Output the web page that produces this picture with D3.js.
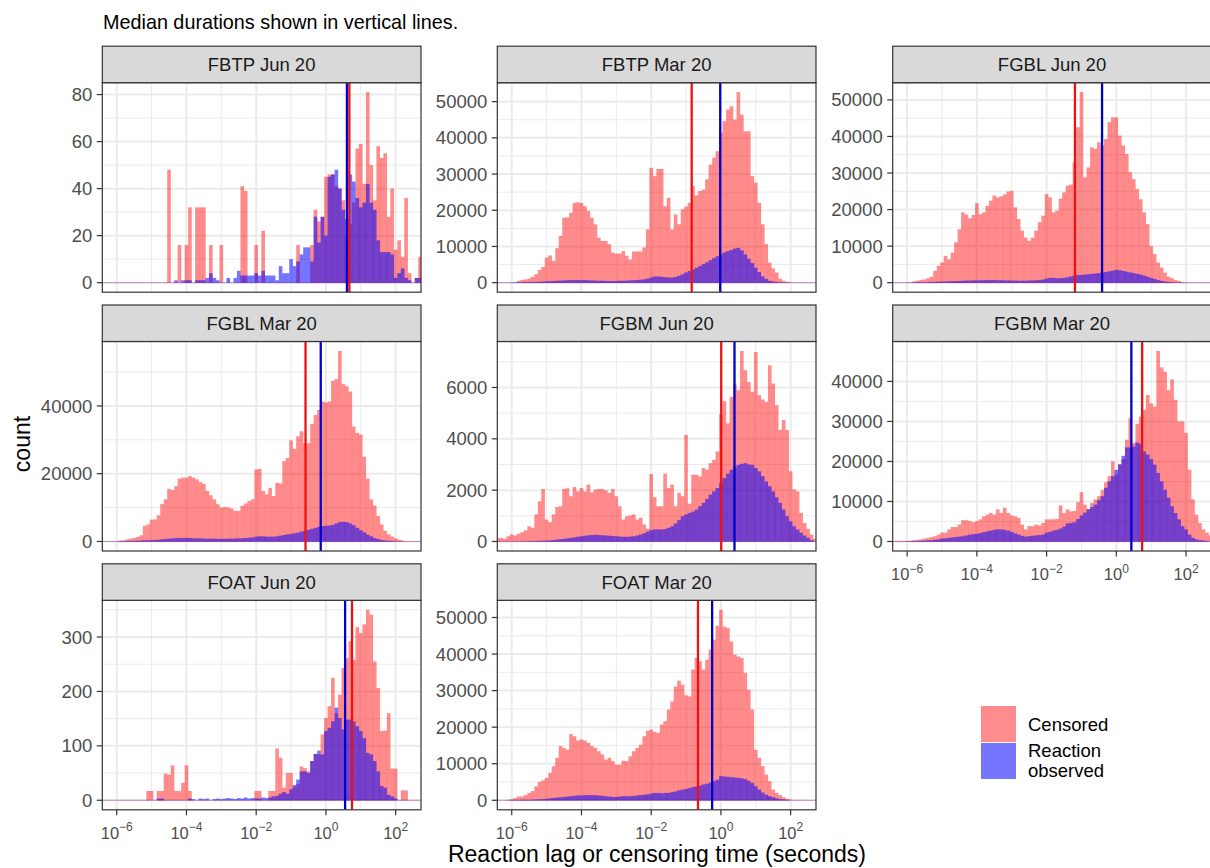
<!DOCTYPE html>
<html><head><meta charset="utf-8">
<script src="https://cdn.jsdelivr.net/npm/d3@7"></script>
<style>
body{margin:0;background:#fff}
text{font-family:"Liberation Sans",Arial,sans-serif}
</style></head><body><svg id="c" width="1210" height="868"></svg>
<script>
// ---------- DATA ----------
const panels = ["FBTP Jun 20","FBTP Mar 20","FGBL Jun 20","FGBL Mar 20","FGBM Jun 20","FGBM Mar 20","FOAT Jun 20","FOAT Mar 20"];
const binWidthLog10 = 0.1; // histogram bin width in decades
// first bin centre (log10 seconds) of each series
const censoredStart = [-4.5,-5.8,-5.8,-5.9,-6.4,-6.4,-5.1,-6.1];
const observedStart = [-4.3,-6.0,-6.0,-6.0,-5.5,-6.0,-4.8,-6.0];

const censoredFBTPJun = [48,0,0,16,0,16,32,0,32,32, 32,0,16,0,0,16,0,0,0,0, 0,41,39,0,0,16,0,22,0,0, 0,0,0,0,0,0,0,16,0,0, 0,16,31,26,28,45,46,46,41,40, 35,20,25,34,57,59,42,81,50,35, 58,53,55,28,40,14,18,11,36,4, 0,2,11];
const observedFBTPJun = [1,0,1,1,1,0,1,1,1,2, 4,2,1,0,0,2,0,2,5,3, 3,3,3,4,3,5,3,3,3,1, 7,4,4,10,7,9,12,15,15,9, 28,17,28,20,45,46,48,40,31,27, 46,43,36,32,34,42,34,31,18,13, 13,13,12,2,4,6,2,1,0,2, 2];

const censoredFBTPMar = [500,700,900,1100,1600,2300,3500,4300,6900,7500, 6000,9500,12900,17900,18000,19300,22000,22200,22000,21100, 19800,17900,16100,12400,11500,11500,10600,8300,8000,8000, 8700,7400,6400,8600,8600,8600,9700,14700,31700,29400, 31400,31400,21100,23400,14700,18800,16100,20200,21000,22000, 26700,24100,25300,25700,28500,32600,34500,36300,41400,44600, 47800,48700,45000,52600,46400,41800,41800,29400,27600,22000, 16100,10600,5500,3900,2800,1100,500,200,100];
const observedFBTPMar = [100,100,100,100,150,150,200,200,250,300, 350,400,450,500,550,600,650,700,700,700, 700,700,650,600,550,500,500,450,450,450, 450,500,500,550,600,650,700,800,900,1100, 1400,1700,1700,1600,1500,1400,1400,1600,1900,2300, 2800,3200,3600,4100,4600,5100,5600,6200,6800,7300, 7800,8300,8700,9000,9400,9600,8900,7800,6600,5400, 4100,2900,1700,1000,500,300,200,100,50,50,0];

const censoredFGBLJun = [300,500,700,900,1200,1600,3200,4600,5500,7300, 6400,8200,11000,14600,19200,18600,17600,18500,21700,18700, 19200,21000,22400,23800,23300,23600,24100,24900,25100,20600, 17400,14200,12300,11400,12300,14200,16500,18300,24200,23300, 19200,19700,23000,24700,26500,26800,32900,42500,52100,28800, 31500,37000,36600,38400,37500,39300,43900,45200,45200,40200, 37500,35200,30200,28300,25600,22800,19200,16000,10000,7800, 5500,4100,2700,1600,1200,700,400,200,100];
const observedFGBLJun = [50,50,50,100,100,100,150,150,200,250, 300,300,350,400,400,450,500,550,550,600, 600,650,650,700,700,700,650,650,600,600, 550,550,500,500,500,550,600,650,700,800, 1100,1300,1300,1200,1200,1300,1500,1700,1900,2100, 2100,2200,2300,2400,2500,2600,2700,2900,3100,3300, 3500,3400,3200,3000,2800,2600,2400,2200,1900,1600, 1300,1000,700,500,300,200,100,50,50];

const censoredFGBLMar = [200,300,600,800,1000,1300,1800,4600,5000,6400, 6500,7700,11000,12400,15500,15200,16300,18500,18800,18800, 19300,18800,18300,17500,17000,14900,13600,12400,11000,10000, 10200,10000,9700,9000,9000,10500,11200,11900,12400,21200, 21400,14900,13900,15800,13400,17300,17100,23700,24600,29800, 27300,31000,32500,29000,29000,34700,37300,38800,41300,41000, 41300,47400,47900,56200,46400,45800,44200,33900,32000,31500, 25000,18500,12400,10600,7500,5000,3100,2100,1400,900, 500,200];
const observedFGBLMar = [50,50,100,100,150,150,200,250,300,350, 400,450,500,600,700,800,900,950,1000,1000, 1000,1000,950,900,900,850,800,800,800,750, 750,750,800,800,850,900,950,1000,1100,1200, 1400,1500,1500,1400,1400,1400,1500,1700,1900,2100, 2200,2400,2600,2900,3100,3400,3700,4000,4300,4500, 4600,4700,4900,5300,5700,5800,5700,5300,4800,4000, 3300,2700,2000,1500,1000,700,400,250,150,100, 50];

const censoredFGBMJun = [130,130,100,200,270,230,300,360,430,590, 530,1050,1560,2040,850,750,1050,1340,1370,2040, 2070,1760,2120,1950,2080,1950,2210,1910,2020,2040, 2040,1990,1890,2040,1760,1370,850,980,1010,1050, 850,920,660,490,2620,1720,1370,1370,2640,2080, 2210,1370,1890,1760,4150,1470,2600,2600,2530,2860, 2790,3050,3180,3500,4960,5460,4600,5630,6150,5890, 7420,6670,6210,5830,7380,5700,5530,5440,6860,6150, 5310,4340,4730,4340,2730,2020,1950,1110,720,490, 270,100];
const observedFGBMJun = [10,10,20,20,30,30,40,50,70,90, 100,120,140,160,180,200,220,240,250,260, 250,240,230,220,210,200,190,180,180,190, 200,230,270,320,380,440,470,470,460,480, 530,590,700,830,980,1050,1110,1160,1240,1370, 1500,1660,1820,1950,2080,2270,2470,2640,2790,2900, 2980,3020,3050,3000,2980,2860,2730,2540,2340,2150, 1950,1720,1500,1240,980,780,590,460,340,230, 140,50];

const censoredFGBMMar = [100,100,100,100,100,200,300,400,500,700, 900,1100,1300,1700,2200,2200,3000,3600,3600,4200, 5300,5300,5100,4800,5100,5500,6300,6700,7100,6700, 8000,7100,8400,7100,6500,6300,5900,4200,3000,3800, 3800,4200,4000,4600,5500,5500,5500,5600,9000,7100, 8000,7500,7600,9800,12300,9200,8100,9600,10500,11300, 12900,14800,16300,20000,16700,19200,20600,25400,30800,24600, 29400,31200,32900,36600,34500,33700,47600,43500,42400,37800, 40500,35400,30000,30000,27100,17900,10500,6700,4600,3000, 2200,1500];
const observedFGBMMar = [50,50,100,100,150,200,250,300,400,500, 700,800,900,1000,1100,1200,1300,1500,1700,1800, 1900,2100,2300,2500,2700,2900,3000,3000,2900,2700, 2400,2000,1700,1400,1200,1300,1400,1500,1600,1700, 2200,2400,2700,2900,3200,3700,4500,4600,4800,5600, 6500,7200,8000,8600,9200,10300,11300,13400,15000,16300, 17900,19300,21400,23500,23500,23700,24700,24400,22500,21700, 20600,19200,17100,15000,12900,10900,8800,7100,5500,3800, 3000,1700,900,500,300,200,100];

const censoredFOATJun = [17,17,0,17,17,49,47,64,17,17, 32,64,17,0,0,0,0,0,0,0, 0,0,0,0,0,0,0,0,0,0, 0,17,17,0,0,17,17,95,78,23, 50,50,25,30,62,59,53,72,85,84, 121,151,173,225,160,194,243,261,292,258, 318,307,323,350,341,255,206,127,128,160, 58,58,0,18,18];
const observedFOATJun = [3,3,0,0,0,0,0,0,0,3, 2,0,3,2,3,0,2,3,2,3, 4,3,2,4,3,5,3,4,3,3, 5,4,5,7,8,12,15,12,20,28, 38,53,53,50,72,85,91,84,127,133, 145,170,151,130,148,148,145,136,127,114, 87,84,72,53,26,23,10,7,3,0];

const censoredFOATMar = [100,300,600,1000,1000,1400,2000,2500,3800,5000, 5400,6100,7500,9300,11600,14800,14300,13800,18100,17500, 16300,16600,16300,15700,14800,14300,13400,12500,11100,11600, 10700,9700,9700,10800,10700,12000,13400,14300,15200,17500, 19000,19300,18700,18400,20700,21600,24800,27000,31100,32700, 31600,28700,28400,35700,38900,38000,35700,38400,41200,43900, 47700,52100,47500,47100,43400,39800,39300,38900,34800,30200, 24800,13800,11600,9300,7000,5200,2900,2000,1400,800,400,200];
const observedFOATMar = [50,50,50,100,100,100,150,200,250,300, 400,500,600,700,800,900,1000,1100,1200,1300, 1300,1400,1400,1400,1400,1300,1200,1100,1000,900, 900,1000,1100,1100,1100,1200,1300,1400,1500,1600, 1800,2000,2000,1900,2000,2000,2200,2400,2700,2900, 3100,3300,3600,3800,4000,4300,4500,4800,5200,5600, 6600,6500,6400,6300,6200,6100,6000,5800,5300,4700, 3800,2900,2100,1500,1100,800,500,300,200,100];

const censored = [censoredFBTPJun,censoredFBTPMar,censoredFGBLJun,censoredFGBLMar,censoredFGBMJun,censoredFGBMMar,censoredFOATJun,censoredFOATMar];
const observed = [observedFBTPJun,observedFBTPMar,observedFGBLJun,observedFGBLMar,observedFGBMJun,observedFGBMMar,observedFOATJun,observedFOATMar];

// median durations (seconds)
const medianCensored = [4.7,0.145,0.065,0.26,1.02,5.5,5.6,0.22];
const medianObserved = [4.0,0.955,0.39,0.71,2.45,2.7,3.55,0.56];

const yTickValues = [
  [0,20,40,60,80],
  [0,10000,20000,30000,40000,50000],
  [0,10000,20000,30000,40000,50000],
  [0,20000,40000],
  [0,2000,4000,6000],
  [0,10000,20000,30000,40000],
  [0,100,200,300],
  [0,10000,20000,30000,40000,50000]
];
const xTickExponents = [-6,-4,-2,0,2];
const xMinorExponents = [-5,-3,-1,1];
const legendLabels = [["Censored"],["Reaction","observed"]];

// ---------- LAYOUT ----------
const svg = d3.select("#c");
svg.append("rect").attr("width",1210).attr("height",868).attr("fill","#fff");
const colX = [102.3,497.3,892.7], panelW = 318.7;
const rowTop = [82.7,341.5,600.3], panelH = 209.5, stripH = 36.5;
const RED = "#FF0000", BLUE = "#0000FF", ALPHA_RED = 0.45, ALPHA_BLUE = 0.54;
const x = d3.scaleLog().domain([Math.pow(10,-6.414), Math.pow(10,2.727)]).range([0,panelW]);
const bottomPanels = [5,6,7];

svg.append("text").attr("x",103).attr("y",29).attr("font-size",19.8).attr("fill","#000")
  .text("Median durations shown in vertical lines.");

const defs = svg.append("defs");

panels.forEach((name,i)=>{
  const col = i%3, row = Math.floor(i/3);
  const g = svg.append("g").attr("transform",`translate(${colX[col]},${rowTop[row]})`);
  const maxV = d3.max(censored[i].concat(observed[i]));
  const y = d3.scaleLinear().domain([-0.05*maxV, 1.05*maxV]).range([panelH,0]);
  const ticks = yTickValues[i];
  const step = ticks[1]-ticks[0];
  const minors = [ticks[0]-step/2].concat(ticks.map(t=>t+step/2)).filter(v=>v>y.domain()[0]&&v<y.domain()[1]);

  defs.append("clipPath").attr("id","clip"+i).append("rect").attr("width",panelW).attr("height",panelH);
  g.append("rect").attr("width",panelW).attr("height",panelH).attr("fill","#fff");
  const grid = g.append("g");
  grid.selectAll(".ymin").data(minors).enter().append("line")
    .attr("x1",0).attr("x2",panelW).attr("y1",d=>y(d)).attr("y2",d=>y(d))
    .attr("stroke","#EBEBEB").attr("stroke-width",1);
  grid.selectAll(".xmin").data(xMinorExponents).enter().append("line")
    .attr("x1",d=>x(Math.pow(10,d))).attr("x2",d=>x(Math.pow(10,d))).attr("y1",0).attr("y2",panelH)
    .attr("stroke","#EBEBEB").attr("stroke-width",1);
  grid.selectAll(".ymaj").data(ticks).enter().append("line")
    .attr("x1",0).attr("x2",panelW).attr("y1",d=>y(d)).attr("y2",d=>y(d))
    .attr("stroke","#EBEBEB").attr("stroke-width",2);
  grid.selectAll(".xmaj").data(xTickExponents).enter().append("line")
    .attr("x1",d=>x(Math.pow(10,d))).attr("x2",d=>x(Math.pow(10,d))).attr("y1",0).attr("y2",panelH)
    .attr("stroke","#EBEBEB").attr("stroke-width",2);

  const plot = g.append("g").attr("clip-path",`url(#clip${i})`);
  const series = [
    {vals:censored[i], start:censoredStart[i], col:RED, a:ALPHA_RED},
    {vals:observed[i], start:observedStart[i], col:BLUE, a:ALPHA_BLUE}
  ];
  series.forEach(s=>{
    const bins = s.vals.map((v,k)=>({c:(Math.round(s.start*10)+k)/10, v}));
    plot.append("line").attr("x1",0).attr("x2",panelW).attr("y1",y(0)).attr("y2",y(0))
      .attr("stroke",s.col).attr("stroke-opacity",0.22).attr("stroke-width",1);
    plot.selectAll(null).data(bins.filter(b=>b.v>0)).enter().append("rect")
      .attr("x",b=>x(Math.pow(10,b.c-binWidthLog10/2)))
      .attr("width",b=>x(Math.pow(10,b.c+binWidthLog10/2))-x(Math.pow(10,b.c-binWidthLog10/2)))
      .attr("y",b=>y(b.v)).attr("height",b=>y(0)-y(b.v))
      .attr("fill",s.col).attr("fill-opacity",s.a)
      .attr("stroke",s.col).attr("stroke-opacity",0.12).attr("stroke-width",0.4);
  });
  [[medianCensored[i],"#EE1111"],[medianObserved[i],"#0000CC"]].forEach(([m,c])=>{
    plot.append("line").attr("x1",x(m)).attr("x2",x(m)).attr("y1",0).attr("y2",panelH)
      .attr("stroke",c).attr("stroke-width",2.3);
  });
  g.append("rect").attr("width",panelW).attr("height",panelH).attr("fill","none")
    .attr("stroke","#333").attr("stroke-width",1.2);

  g.append("rect").attr("y",-stripH).attr("width",panelW).attr("height",stripH)
    .attr("fill","#D9D9D9").attr("stroke","#333").attr("stroke-width",1.2);
  g.append("text").attr("x",panelW/2).attr("y",-stripH/2+6.6).attr("text-anchor","middle")
    .attr("font-size",18.5).attr("fill","#1A1A1A").text(name);

  const ya = g.append("g");
  ya.selectAll("line").data(ticks).enter().append("line")
    .attr("x1",-5.5).attr("x2",0).attr("y1",d=>y(d)).attr("y2",d=>y(d))
    .attr("stroke","#333").attr("stroke-width",1.2);
  ya.selectAll("text").data(ticks).enter().append("text")
    .attr("x",-10).attr("y",d=>y(d)+6.6).attr("text-anchor","end")
    .attr("font-size",18.5).attr("fill","#4D4D4D").text(d=>d);

  if(bottomPanels.includes(i)){
    const xa = g.append("g").attr("transform",`translate(0,${panelH})`);
    xa.selectAll("line").data(xTickExponents).enter().append("line")
      .attr("x1",d=>x(Math.pow(10,d))).attr("x2",d=>x(Math.pow(10,d))).attr("y1",0).attr("y2",5.5)
      .attr("stroke","#333").attr("stroke-width",1.2);
    const t = xa.selectAll("text").data(xTickExponents).enter().append("text")
      .attr("x",d=>x(Math.pow(10,d))).attr("y",29).attr("text-anchor","middle")
      .attr("fill","#4D4D4D");
    t.append("tspan").attr("font-size",16.5).text("10");
    t.append("tspan").attr("font-size",12).attr("dy",-7.5).text(d=>(d<0?"\u2212":"")+Math.abs(d));
  }
});

svg.append("text").attr("transform","translate(30,444) rotate(-90)").attr("text-anchor","middle")
  .attr("font-size",23).attr("fill","#000").text("count");
svg.append("text").attr("x",657).attr("y",862).attr("text-anchor","middle")
  .attr("font-size",23).attr("fill","#000").text("Reaction lag or censoring time (seconds)");

const lg = svg.append("g").attr("transform","translate(981,706)");
[[RED,ALPHA_RED],[BLUE,ALPHA_BLUE]].forEach(([c,a],k)=>{
  lg.append("rect").attr("x",0).attr("y",k*37).attr("width",35).attr("height",36)
    .attr("fill",c).attr("fill-opacity",a);
});
lg.append("text").attr("x",47).attr("y",24.5).attr("font-size",18.5).attr("fill","#000").text(legendLabels[0][0]);
lg.append("text").attr("x",47).attr("y",51).attr("font-size",18.5).attr("fill","#000").text(legendLabels[1][0]);
lg.append("text").attr("x",47).attr("y",71).attr("font-size",18.5).attr("fill","#000").text(legendLabels[1][1]);
</script></body></html>
